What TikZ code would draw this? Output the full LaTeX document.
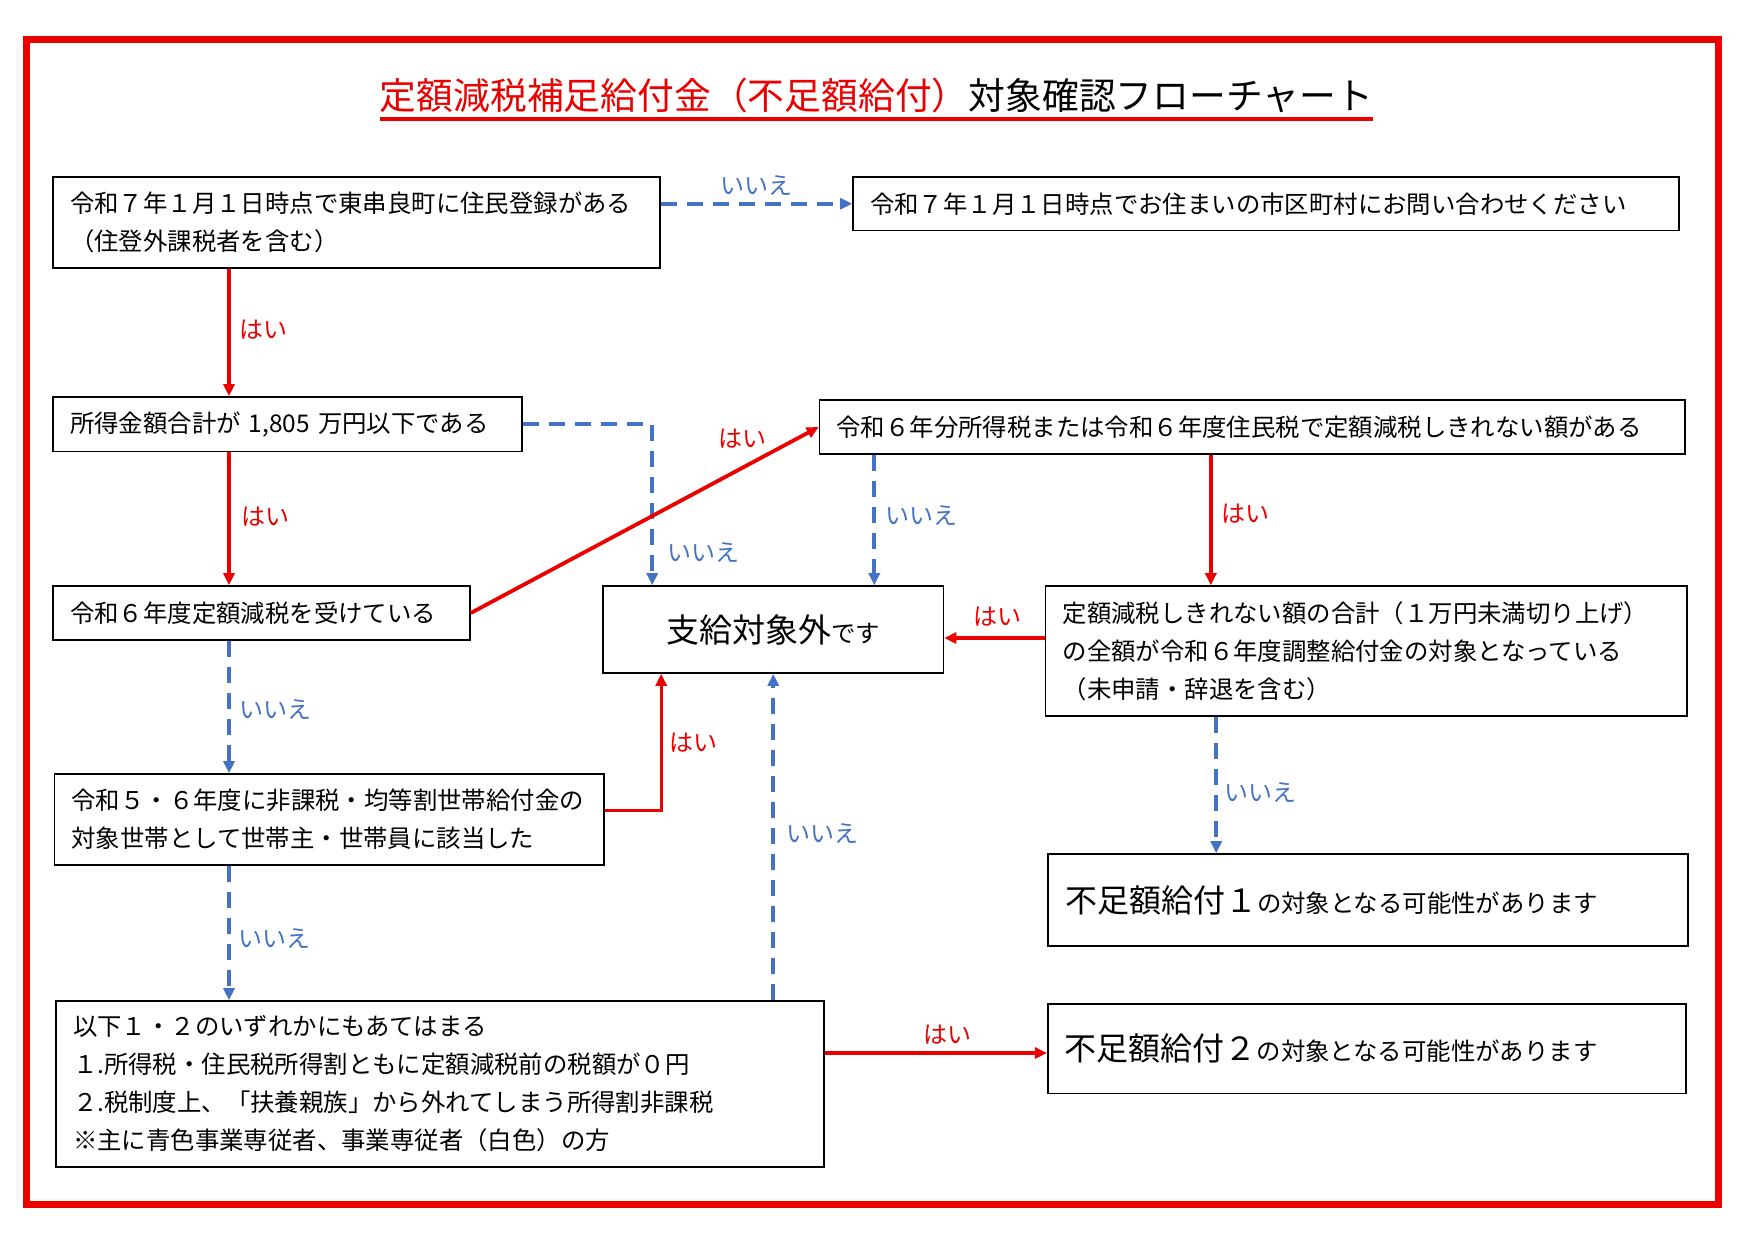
\documentclass[tikz,border=0pt]{standalone}
\usepackage{fontspec}
\setmainfont{Noto Sans CJK JP}
\usetikzlibrary{arrows.meta}
\definecolor{hai}{RGB}{235,0,0}
\definecolor{iie}{RGB}{68,114,196}

\begin{document}
\begin{tikzpicture}[x=1pt, y=-1pt,
    box/.style 2 args={draw, line width=1.6pt, inner xsep=17pt, inner ysep=0pt, align=left,
        text width=#1, minimum height=#2, font=\fontsize{24.4}{38}\selectfont},
    yes/.style={draw=hai, line width=3.4pt, -{Triangle[length=12pt, width=11pt]}},
    no/.style={draw=iie, line width=4pt, dash pattern=on 16pt off 10pt, -{Triangle[length=12pt, width=11pt]}},
    hailab/.style={text=hai, inner sep=0pt, font=\fontsize{24}{24}\selectfont},
    iielab/.style={text=iie, inner sep=0pt, font=\fontsize{24}{24}\selectfont}]

    \useasboundingbox (0,0) rectangle (1755,1240);

    % Cornice esterna rossa
    \draw[draw=hai, line width=7pt] (26,39) rectangle (1718,1204);

    % Titolo con sottolineatura
    \node[inner sep=0pt, anchor=base, font=\fontsize{36.8}{40}\selectfont] (title) at (876.5,109)
        {\textcolor{hai}{定額減税補足給付金（不足額給付）}対象確認フローチャート};
    \draw[draw=hai, line width=3.5pt] (title.west |- 0,119) -- (title.east |- 0,119);

    % Riquadri della colonna sinistra
    \node[box={573pt}{91pt}] (a) at (356.5,222.5) {令和７年１月１日時点で東串良町に住民登録がある\\（住登外課税者を含む）};
    \node[box={435pt}{54.5pt}] (c) at (287.5,424.25) {所得金額合計が 1,805 万円以下である};
    \node[box={383pt}{54pt}] (d) at (261.5,613) {令和６年度定額減税を受けている};
    \node[box={515.5pt}{91pt}] (j) at (329.25,819.5) {令和５・６年度に非課税・均等割世帯給付金の\\対象世帯として世帯主・世帯員に該当した};
    \node[box={734pt}{166pt}] (k) at (440,1084) {以下１・２のいずれかにもあてはまる\\１.所得税・住民税所得割ともに定額減税前の税額が０円\\２.税制度上、「扶養親族」から外れてしまう所得割非課税\\※主に青色事業専従者、事業専従者（白色）の方};

    % Riquadri centrali e di destra
    \node[box={792pt}{53.5pt}] (b) at (1266,203.75) {令和７年１月１日時点でお住まいの市区町村にお問い合わせください};
    \node[box={831.5pt}{54pt}] (e) at (1252.25,427) {令和６年分所得税または令和６年度住民税で定額減税しきれない額がある};
    \node[box={306.5pt}{87pt}, align=center] (f) at (773.25,629.5) {{\fontsize{33}{38}\selectfont 支給対象外}です};
    \node[box={607.4pt}{130pt}] (g) at (1366.3,651) {定額減税しきれない額の合計（１万円未満切り上げ）\\の全額が令和６年度調整給付金の対象となっている\\（未申請・辞退を含む）};
    \node[box={606pt}{92pt}] (h) at (1368,900) {{\fontsize{32}{38}\selectfont 不足額給付１}の対象となる可能性があります};
    \node[box={604pt}{89.5pt}] (i) at (1366.7,1048.75) {{\fontsize{32}{38}\selectfont 不足額給付２}の対象となる可能性があります};

    % Punti d'appoggio per le frecce
    \coordinate (col) at (229,0);
    \coordinate (fdown) at ([xshift=50pt]f.north west);
    \coordinate (fup) at ([xshift=-70pt]f.north east);
    \coordinate (fin) at ([xshift=59pt]f.south west);
    \coordinate (gtop) at ([xshift=166pt]g.north west);
    \coordinate (grow) at ([yshift=13pt]g.west);
    \coordinate (htop) at ([xshift=169pt]h.north west);
    \coordinate (krow) at ([yshift=31pt]k.east);

    % Frecce "はい" (rosse) e "いいえ" (blu tratteggiate)
    \draw[no] (a.east |- b.west) -- (b.west);
    \draw[yes] (a.south -| col) -- (c.north -| col);
    \draw[yes] (c.south -| col) -- (d.north -| col);
    \draw[no] (d.south -| col) -- (j.north -| col);
    \draw[no] (j.south -| col) -- (k.north -| col);
    \draw[no] (c.east) -| (fdown);
    \draw[yes, line width=3.8pt] (d.east) -- (e.west);
    \draw[no] (fup |- e.south) -- (fup);
    \draw[yes] (gtop |- e.south) -- (gtop);
    \draw[yes, line width=4.5pt] (grow) -- (grow -| f.east);
    \draw[no] (htop |- g.south) -- (htop);
    \draw[yes] ([yshift=9pt]j.east) -| (fin);
    \draw[no] (k.north -| f.south) -- (f.south);
    \draw[yes] (krow) -- (krow -| i.west);

    % Etichette delle frecce
    \node[iielab] (n1) at (756,186) {いいえ};
    \node[hailab] (y1) at (263,330) {はい};
    \node[hailab] (y2) at (265,517) {はい};
    \node[hailab] (y3) at (742,439) {はい};
    \node[iielab] (n2) at (703,553) {いいえ};
    \node[iielab] (n3) at (921,516) {いいえ};
    \node[hailab] (y4) at (1245,514) {はい};
    \node[hailab] (y5) at (997,617) {はい};
    \node[iielab] (n4) at (1260,793) {いいえ};
    \node[iielab] (n5) at (275,710) {いいえ};
    \node[hailab] (y6) at (693,743) {はい};
    \node[iielab] (n6) at (822,834) {いいえ};
    \node[iielab] (n7) at (274,939) {いいえ};
    \node[hailab] (y7) at (947,1035) {はい};

\end{tikzpicture}
\end{document}
